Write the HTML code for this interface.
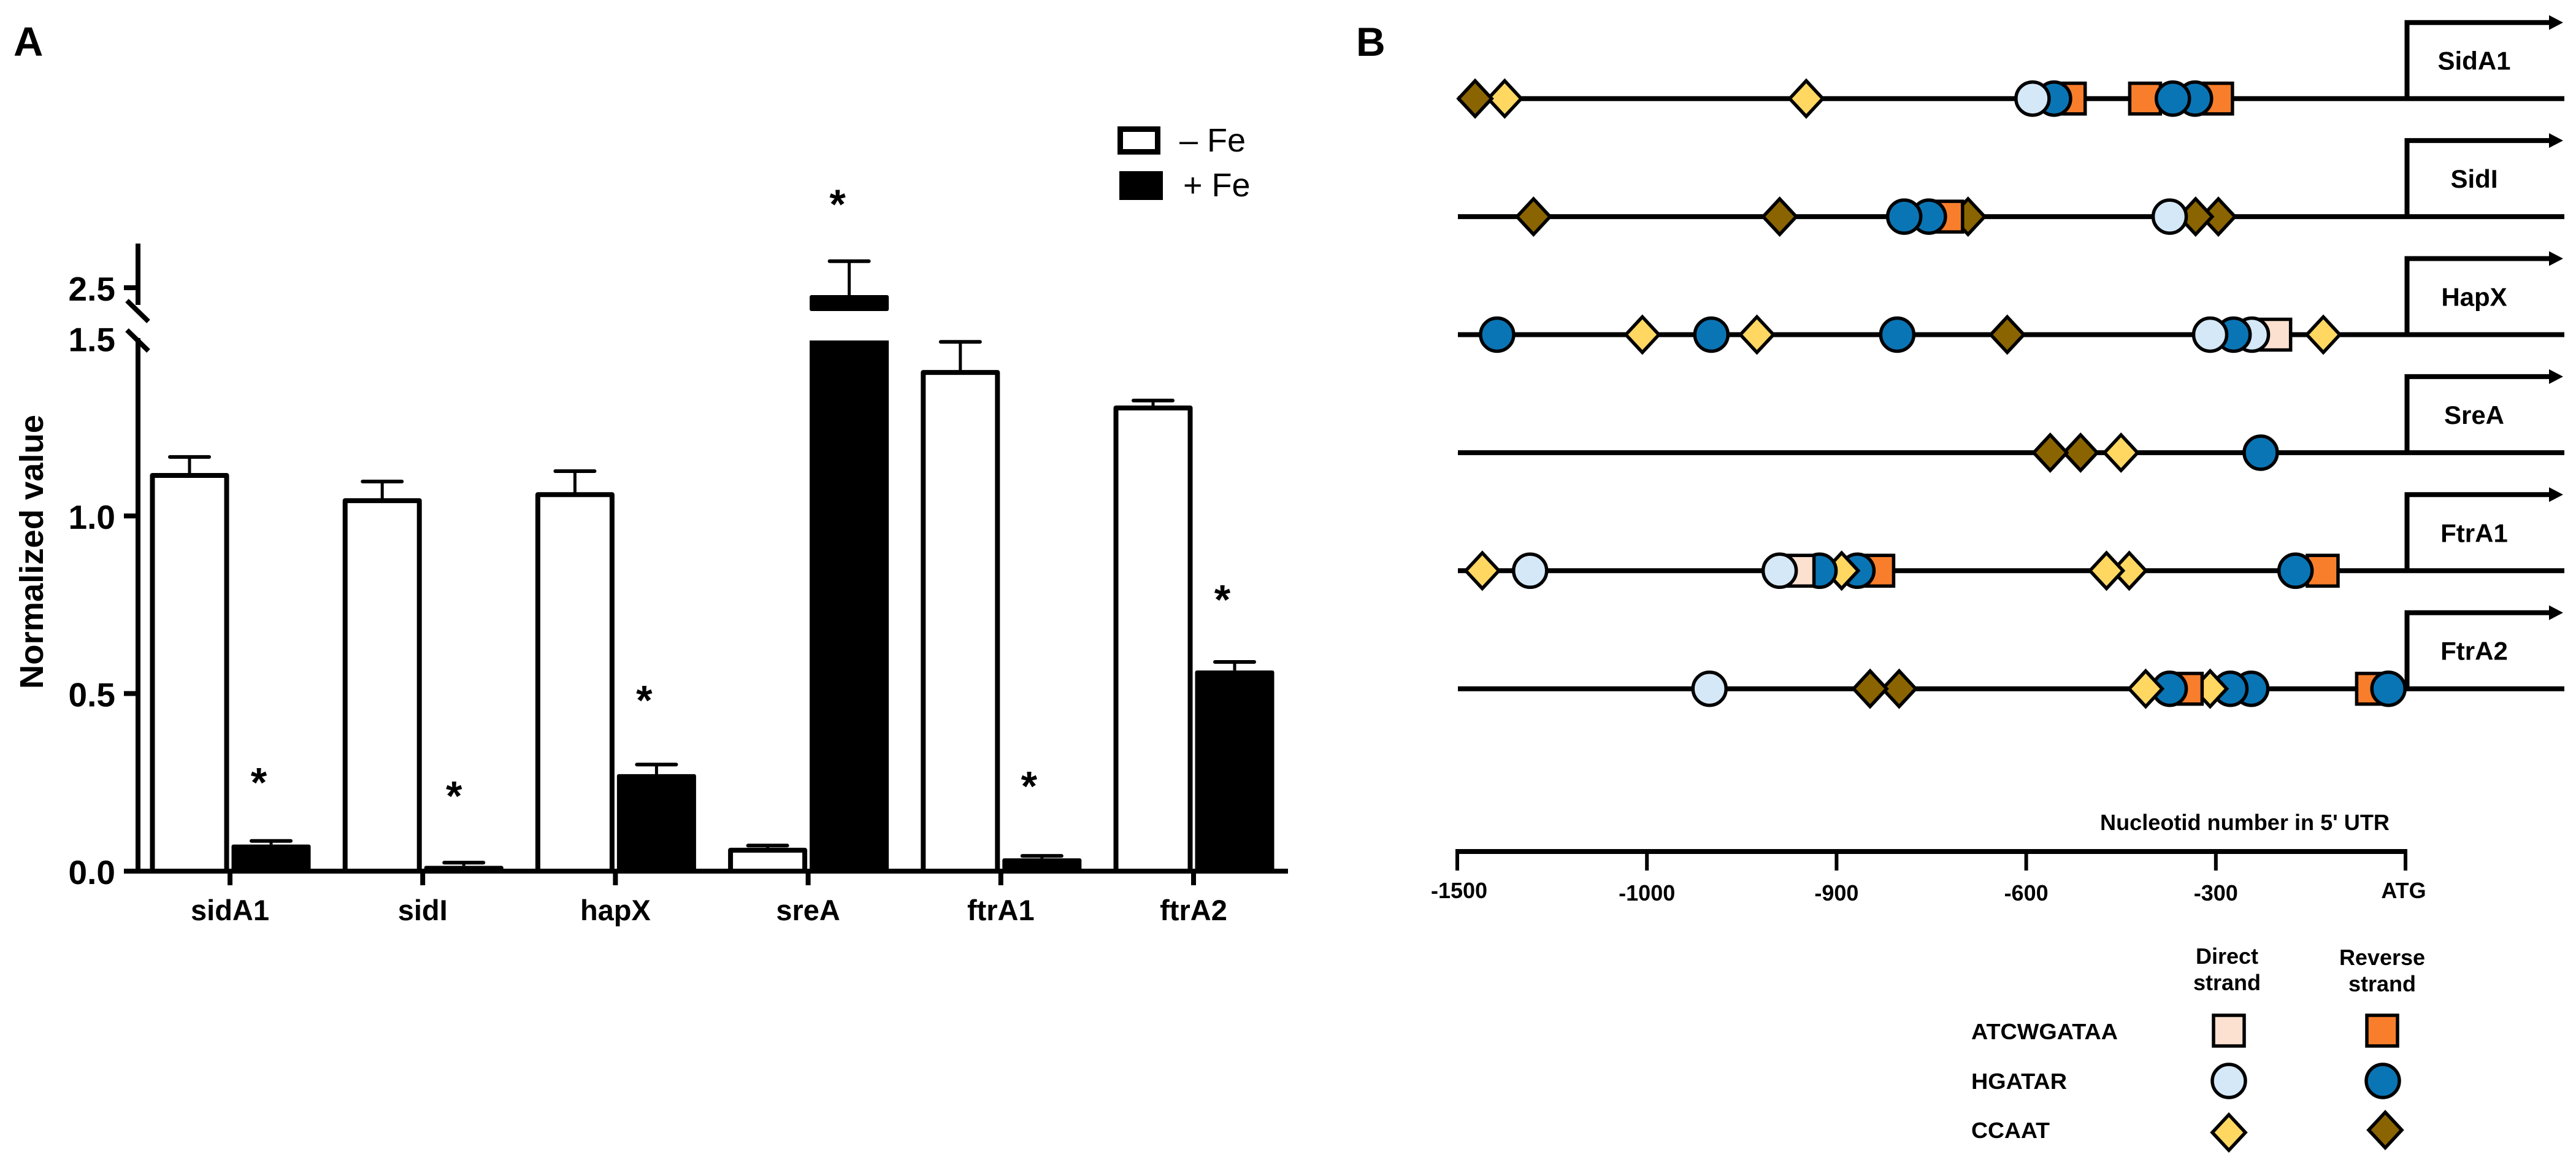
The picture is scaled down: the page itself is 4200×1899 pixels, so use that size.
<!DOCTYPE html>
<html lang="en">
<head>
<meta charset="utf-8">
<title>Gene expression and promoter motifs</title>
<style>
html,body{margin:0;padding:0;background:#fff;}
svg{display:block;}
text{font-family:"Liberation Sans",sans-serif;fill:#000;}
.b{font-weight:700;}
</style>
</head>
<body>
<svg id="fig" xmlns="http://www.w3.org/2000/svg" width="4200" height="1899" viewBox="0 0 4200 1899">
  <rect x="0" y="0" width="4200" height="1899" fill="#fff"/>
  <text class="b" x="22" y="91" font-size="67">A</text>
  <text class="b" x="2211" y="91" font-size="66">B</text>
  <text class="b" transform="translate(70,1123) rotate(-90)" font-size="54" textLength="447" lengthAdjust="spacingAndGlyphs">Normalized value</text>

  <g>
    <rect x="1826.5" y="210.5" width="61" height="37" fill="#fff" stroke="#000" stroke-width="9"/>
    <text x="1923" y="247" font-size="54">– Fe</text>
    <rect x="1825" y="279" width="71" height="47" fill="#000"/>
    <text x="1929" y="320" font-size="54">+ Fe</text>
  </g>

  <g id="barChart"></g>
  <g id="promoterMap"></g>

  <text class="b" x="3424" y="1353" font-size="36" textLength="472" lengthAdjust="spacingAndGlyphs">Nucleotid number in 5' UTR</text>

  <g>
    <text class="b" x="3631" y="1571" font-size="36" text-anchor="middle">Direct</text>
    <text class="b" x="3631" y="1614" font-size="36" text-anchor="middle">strand</text>
    <text class="b" x="3884" y="1573" font-size="36" text-anchor="middle">Reverse</text>
    <text class="b" x="3884" y="1616" font-size="36" text-anchor="middle">strand</text>
    <text class="b" x="3214" y="1694" font-size="36" textLength="239" lengthAdjust="spacingAndGlyphs">ATCWGATAA</text>
    <text class="b" x="3214" y="1775" font-size="36" textLength="156" lengthAdjust="spacingAndGlyphs">HGATAR</text>
    <text class="b" x="3214" y="1855" font-size="36" textLength="128" lengthAdjust="spacingAndGlyphs">CCAAT</text>
  </g>
</svg>

<script>
// ---------- Panel A data ----------
const categories = ['sidA1', 'sidI', 'hapX', 'sreA', 'ftrA1', 'ftrA2'];
const minusFe = [1.114, 1.043, 1.06, 0.059, 1.404, 1.304];
const minusFeErrTop = [1.166, 1.097, 1.126, 0.072, 1.49, 1.325];
const plusFe = [0.075, 0.015, 0.273, 2.417, 0.036, 0.565];
const plusFeErrTop = [0.085, 0.024, 0.30, 2.8, 0.043, 0.589];
const starValues = [0.258, 0.22, 0.49, 3.48, 0.248, 0.773];
const lowerTicks = [0, 0.5, 1, 1.5];
const upperTicks = [2.5];

// ---------- Panel B data ----------
const genes = ['SidA1', 'SidI', 'HapX', 'SreA', 'FtrA1', 'FtrA2'];
const sidA1Positions = [-1375, -1453, -916, -531, -556, -590, -412, -298, -333, -368];
const sidA1Motifs = ['dd', 'dr', 'dd', 'sr', 'cr', 'cd', 'sr', 'sr', 'cr', 'cr'];
const sidIPositions = [-1299, -930, -692, -725, -754, -793, -296, -332, -373];
const sidIMotifs = ['dr', 'dr', 'dr', 'sr', 'cr', 'cr', 'dr', 'dr', 'cd'];
const hapXPositions = [-1395, -1012, -966, -942, -804, -630, -206, -243, -272, -309, -130];
const hapXMotifs = ['cr', 'dd', 'cr', 'dd', 'cr', 'dr', 'sd', 'cd', 'cr', 'cd', 'dd'];
const sreAPositions = [-514, -562, -450, -229];
const sreAMotifs = ['dr', 'dr', 'dd', 'cr'];
const ftrA1Positions = [-1434, -1308, -834, -867, -892, -909, -920, -930, -437, -473, -131, -174];
const ftrA1Motifs = ['dd', 'cd', 'sr', 'cr', 'dd', 'cr', 'sd', 'cd', 'dd', 'dd', 'sr', 'cr'];
const ftrA2Positions = [-967, -801, -847, -244, -277, -309, -346, -373, -411, -53, -27];
const ftrA2Motifs = ['cd', 'dr', 'dr', 'cr', 'cr', 'dd', 'sr', 'cr', 'dd', 'sr', 'cr'];
const genePositions = [sidA1Positions, sidIPositions, hapXPositions, sreAPositions, ftrA1Positions, ftrA2Positions];
const geneMotifs = [sidA1Motifs, sidIMotifs, hapXMotifs, sreAMotifs, ftrA1Motifs, ftrA2Motifs];
const positionTicks = [-1500, -1000, -900, -600, -300, 0];
const positionTickLabels = ['-1500', '-1000', '-900', '-600', '-300', 'ATG'];

const NS = 'http://www.w3.org/2000/svg';
function make(parent, tag, attrs, text) {
  const e = document.createElementNS(NS, tag);
  for (const k in attrs) e.setAttribute(k, attrs[k]);
  if (text !== undefined) e.textContent = text;
  parent.appendChild(e);
  return e;
}

// ---------- Panel A axes ----------
const Y0 = 1420, LOWER_SCALE = 579, UPPER_REF = 469, UPPER_SCALE = 144;
const LOWER_CUT = 555, UPPER_CUT = 507;
function yScale(v) {
  return v <= 1.5 ? Y0 - v * LOWER_SCALE : UPPER_REF - (v - 2.5) * UPPER_SCALE;
}
function xCat(i) { return 375 + i * 314.2; }

const chart = document.getElementById('barChart');

const axisLow = make(chart, 'line', {x1: 225, y1: 551, x2: 225, y2: 1424, stroke: '#000', 'stroke-width': 8});


const axisUp = make(chart, 'line', {x1: 225, y1: 397, x2: 225, y2: 497, stroke: '#000', 'stroke-width': 8});


const breakA = make(chart, 'line', {x1: 207, y1: 490, x2: 242, y2: 524, stroke: '#000', 'stroke-width': 8});


const breakB = make(chart, 'line', {x1: 207, y1: 538, x2: 242, y2: 572, stroke: '#000', 'stroke-width': 8});



lowerTicks.concat(upperTicks).forEach(function (v) {
  const y = yScale(v);
  if (v !== 1.5) {
    const t = make(chart, 'line', {x1: 202, y1: y, x2: 225, y2: y, stroke: '#000', 'stroke-width': 8});
    
    
  }
  const l = make(chart, 'text', {x: 188, y: y + 21, 'font-size': 55, 'text-anchor': 'end', 'class': 'b'}, v.toFixed(1));
  
  
});

function errorBar(cx, yTop, yBar) {
  const s = make(chart, 'line', {x1: cx, y1: yTop, x2: cx, y2: yBar, stroke: '#000', 'stroke-width': 5});
  
  
  const c = make(chart, 'line', {x1: cx - 32, y1: yTop, x2: cx + 32, y2: yTop, stroke: '#000', 'stroke-width': 6, 'stroke-linecap': 'round'});
  
  
}

categories.forEach(function (name, i) {
  const cx = xCat(i);

  // minus-Fe bar
  const wx = cx - 66;
  const wTop = yScale(minusFe[i]);
  errorBar(wx, yScale(minusFeErrTop[i]), wTop);
  const wb = make(chart, 'rect', {x: wx - 60.5, y: wTop, width: 121, height: Y0 - wTop, fill: '#fff', stroke: '#000', 'stroke-width': 8, 'stroke-linejoin': 'round'});
  
  

  // plus-Fe bar (broken when above the axis break)
  const bx = cx + 67;
  const bTop = yScale(plusFe[i]);
  errorBar(bx, yScale(plusFeErrTop[i]), bTop);
  if (plusFe[i] > 1.5) {
    const up = make(chart, 'rect', {x: bx - 64.5, y: bTop, width: 129, height: UPPER_CUT - bTop, fill: '#000', rx: 3});
    
    
    const lo = make(chart, 'rect', {x: bx - 64.5, y: LOWER_CUT, width: 129, height: Y0 - LOWER_CUT, fill: '#000'});
    
    
  } else {
    const b = make(chart, 'rect', {x: bx - 64.5, y: bTop, width: 129, height: Y0 - bTop, fill: '#000', rx: 3});
    
    
  }

  // x tick + label
  const xt = make(chart, 'line', {x1: cx, y1: Y0, x2: cx, y2: 1443, stroke: '#000', 'stroke-width': 8});
  
  
  const xl = make(chart, 'text', {x: cx, y: 1500, 'font-size': 47, 'text-anchor': 'middle', 'class': 'b'}, name);
  
  

  // significance star
  const sxOffset = [47, 51, 47, 48, 46, 47][i];
  const st = make(chart, 'text', {x: cx + sxOffset, y: yScale(starValues[i]) + 28, 'font-size': 68, 'text-anchor': 'middle', 'class': 'b'}, '*');
  
  
});

const baseline = make(chart, 'line', {x1: 202, y1: Y0, x2: 2100, y2: Y0, stroke: '#000', 'stroke-width': 8});



// ---------- Panel B axes ----------
const map = document.getElementById('promoterMap');
const POS_LEFT = 2376, POS_STEP = 309.2;
function xPos(v) {
  // piecewise scale: the printed ticks are evenly spaced
  for (let i = 0; i < positionTicks.length - 1; i++) {
    const a = positionTicks[i], b = positionTicks[i + 1];
    if (v <= b) return POS_LEFT + (i + (v - a) / (b - a)) * POS_STEP;
  }
  return POS_LEFT + (positionTicks.length - 1) * POS_STEP;
}
function yRow(i) { return 160.7 + i * 192.4; }

const motifFill = {sd: '#FCE1D0', sr: '#F97E2B', cd: '#D5E8F7', cr: '#0A75B5', dd: '#FFD761', dr: '#8A6400'};
const motifNames = {sd: 'atcwgataa-direct', sr: 'atcwgataa-reverse', cd: 'hgatar-direct', cr: 'hgatar-reverse', dd: 'ccaat-direct', dr: 'ccaat-reverse'};

function marker(kind, x, y) {
  const style = {fill: motifFill[kind], stroke: '#000', 'stroke-width': 5.5};
  const shape = kind.charAt(0);
  let e;
  if (shape === 's') {
    e = make(map, 'rect', Object.assign({x: x - 25, y: y - 25, width: 50, height: 50}, style));
  } else if (shape === 'c') {
    e = make(map, 'circle', Object.assign({cx: x, cy: y, r: 27}, style));
  } else {
    e = make(map, 'polygon', Object.assign({points: (x - 27) + ',' + y + ' ' + x + ',' + (y - 29) + ' ' + (x + 27) + ',' + y + ' ' + x + ',' + (y + 29)}, style));
  }
  return e;
}

genes.forEach(function (gene, i) {
  const y = yRow(i);
  const line = make(map, 'line', {x1: 2377, y1: y, x2: 4181, y2: y, stroke: '#000', 'stroke-width': 8});
  
  

  const hook = make(map, 'path', {d: 'M3924.5 ' + y + ' V' + (y - 124) + ' H4160', fill: 'none', stroke: '#000', 'stroke-width': 8});
  
  
  const head = make(map, 'polygon', {points: '4156,' + (y - 136) + ' 4179,' + (y - 124) + ' 4156,' + (y - 112), fill: '#000'});
  
  

  const label = make(map, 'text', {x: 4034, y: y - 47, 'font-size': 42, 'text-anchor': 'middle', 'class': 'b'}, gene);
  
  

  genePositions[i].forEach(function (pos, j) {
    const kind = geneMotifs[i][j];
    const m = marker(kind, xPos(pos), y);
    
    
  });
});

// position axis
const posAxis = make(map, 'line', {x1: POS_LEFT - 3, y1: 1388, x2: xPos(0) + 3, y2: 1388, stroke: '#000', 'stroke-width': 8});


positionTicks.forEach(function (v, i) {
  const x = xPos(v);
  const t = make(map, 'line', {x1: x, y1: 1388, x2: x, y2: 1419, stroke: '#000', 'stroke-width': 6});
  
  
  const edge = i === 0 || i === positionTicks.length - 1;
  const l = make(map, 'text', {x: x + (i === 0 ? 3 : 0) + (i === positionTicks.length - 1 ? -3 : 0), y: edge ? 1464 : 1468, 'font-size': 36, 'text-anchor': 'middle', 'class': 'b'}, positionTickLabels[i]);
  
  
});

// motif legend symbols
const legSd = marker('sd', 3634, 1680);


const legSr = marker('sr', 3884, 1680);


const legCd = marker('cd', 3634, 1762);


const legCr = marker('cr', 3885, 1762);


const legDd = marker('dd', 3634, 1846);


const legDr = marker('dr', 3889, 1842);


</script>
</body>
</html>
